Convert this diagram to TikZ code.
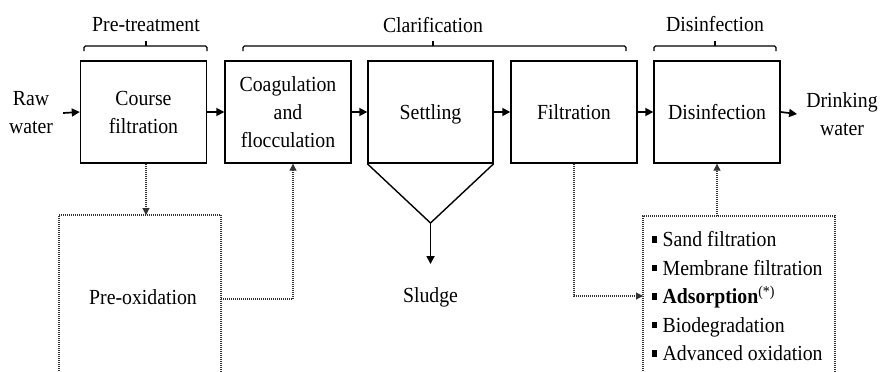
\documentclass[tikz,border=0pt]{standalone}
\usepackage{fontspec}
\setmainfont{Liberation Serif}[FakeStretch=0.92]
\usetikzlibrary{arrows.meta}
\begin{document}
\begin{tikzpicture}[x=1pt,y=-1pt,
  font=\fontsize{21.5}{28}\selectfont,
  box/.style={draw, line width=1.4pt, minimum width=126pt, minimum height=102pt, align=center, inner sep=0pt, text depth=0pt},
  flow/.style={-{Triangle[length=8pt,width=8pt]}, line width=1.7pt},
  dots/.style={dash pattern=on 1pt off 1pt, line width=1.1pt, black!80},
  dotflow/.style={dots, -{Triangle[length=7pt,width=7pt]}},
  brace/.style={line width=1.1pt, rounded corners=1.5pt},
  lbl/.style={align=center, inner sep=0pt}]
\useasboundingbox (0,0) rectangle (881,372);

% main boxes
\node[box] (course) at (143.5,112) {Course\\filtration};
\node[box] (coag)   at (288,112)   {Coagulation\\and\\flocculation};
\node[box, minimum width=125pt] (settle) at (430.5,112) {Settling};
\node[box] (filt)   at (574,112)   {Filtration};
\node[box] (disinf) at (717,112)   {Disinfection};

% end labels
\node[lbl, inner xsep=10pt] (raw) at (31,113) {Raw\\water};
\node[lbl, inner xsep=9pt] (drink) at (842,114) {Drinking\\water};

% main flow
\draw[flow] (raw.east) -- (course.west);
\draw[flow] (course.east) -- (coag.west);
\draw[flow] (coag.east) -- (settle.west);
\draw[flow] (settle.east) -- (filt.west);
\draw[flow] (filt.east) -- (disinf.west);
\draw[flow] (disinf.east) -- (drink.west);

% settling funnel and sludge
\coordinate (apex) at (430.5,223);
\draw[line width=1.4pt] (settle.south west) -- (apex) -- (settle.south east);
\node[lbl, inner ysep=23pt] (sludge) at (430.5,297) {Sludge};
\draw[flow] (apex) -- (sludge.north);

% braces and stage labels
\draw[brace] (84,51) -- (84,46) -- (207,46) -- (207,51);
\draw[brace] (146,46) -- (146,41);
\node[lbl] (pretreat) at (146,25) {Pre-treatment};
\draw[brace] (243,51) -- (243,46) -- (626,46) -- (626,51);
\draw[brace] (433,46) -- (433,41);
\node[lbl] (clarif) at (433,25) {Clarification};
\draw[brace] (654,51) -- (654,46) -- (776,46) -- (776,51);
\draw[brace] (715,46) -- (715,41);
\node[lbl] (disinfhead) at (715,24) {Disinfection};

% pre-oxidation box
\draw[dots] (59,373) -- (59,215) -- (221,215) -- (221,373);
\node[lbl] (preox) at (143,297) {Pre-oxidation};
\coordinate (pretop) at (146,215);
\coordinate (preR) at (221,299);
\draw[dotflow] (course.south -| pretop) -- (pretop);
\draw[dotflow] (preR) -| ([xshift=5pt]coag.south);

% treatment options box
\draw[dots] (643,373) -- (643,216) -- (835,216) -- (835,373);
\coordinate (listL) at (643,296);
\coordinate (listtop) at (717,216);
\draw[dotflow] (filt.south) |- (listL);
\draw[dotflow] (listtop) -- (disinf.south);
\newcommand{\sqb}{\raisebox{4pt}{\rule{4.5pt}{6.5pt}}\hspace{6pt}}
\node[anchor=west, align=left, inner sep=0pt, font=\fontsize{21.5}{28.5}\selectfont] (list) at (652,296.5)
  {\sqb Sand filtration\\
   \sqb Membrane filtration\\
   \sqb \textbf{Adsorption}\textsuperscript{(*)}\\
   \sqb Biodegradation\\
   \sqb Advanced oxidation};
\end{tikzpicture}
\end{document}
